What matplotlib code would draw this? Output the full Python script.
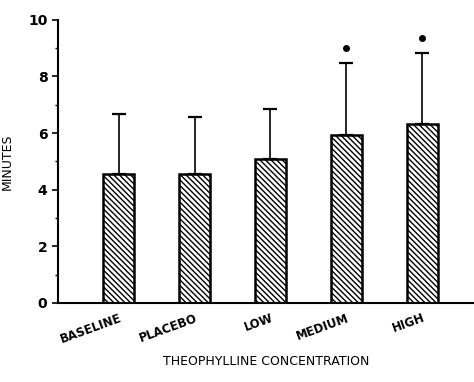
import numpy as np
import matplotlib
matplotlib.use("Agg")
import matplotlib.pyplot as plt
from matplotlib.ticker import MultipleLocator

matplotlib.rcParams["hatch.linewidth"] = 1.0

groups = ["BASELINE", "PLACEBO", "LOW", "MEDIUM", "HIGH"]
means = [4.55, 4.57, 5.08, 5.93, 6.32]
upper = [6.68, 6.57, 6.85, 8.46, 8.82]   # top of error bar
signif = [False, False, False, True, True]

err = [u - m for u, m in zip(upper, means)]
x = np.arange(len(groups))

fig = plt.figure(figsize=(4.74, 3.82), dpi=100)
ax = fig.add_axes([0.122, 0.207, 0.878, 0.741])

ax.bar(x, means, width=0.41, color="white", edgecolor="black",
       linewidth=1.8, hatch="\\\\\\\\\\\\", zorder=2)
ax.errorbar(x, means, yerr=[np.zeros(len(x)), err], fmt="none",
            ecolor="black", elinewidth=1.2, capsize=5, capthick=1.6, zorder=3)
for xi, u, s in zip(x, upper, signif):
    if s:
        ax.plot(xi, u + 0.55, marker="o", ms=4, color="black", zorder=3)

ax.set_xlim(-0.80, 4.68)
ax.set_ylim(0, 10)
ax.yaxis.set_major_locator(MultipleLocator(2))
ax.yaxis.set_minor_locator(MultipleLocator(1))
ax.tick_params(axis="y", which="major", length=4, width=1.2, labelsize=10)
ax.tick_params(axis="y", which="minor", length=2, width=1)
ax.tick_params(axis="x", length=0, pad=6)
for lab in ax.get_yticklabels():
    lab.set_fontweight("bold")

ax.set_xticks(x)
ax.set_xticklabels(groups, rotation=20, ha="right", rotation_mode="anchor",
                   fontsize=8.5, fontweight="bold")
ax.spines["top"].set_visible(False)
ax.spines["right"].set_visible(False)
ax.spines["left"].set_linewidth(1.5)
ax.spines["bottom"].set_linewidth(1.5)

ax.set_ylabel("MINUTES", fontsize=9, labelpad=10)
ax.set_xlabel("THEOPHYLLINE CONCENTRATION", fontsize=9, labelpad=7)

fig.savefig("out.png", dpi=100, facecolor="white")
